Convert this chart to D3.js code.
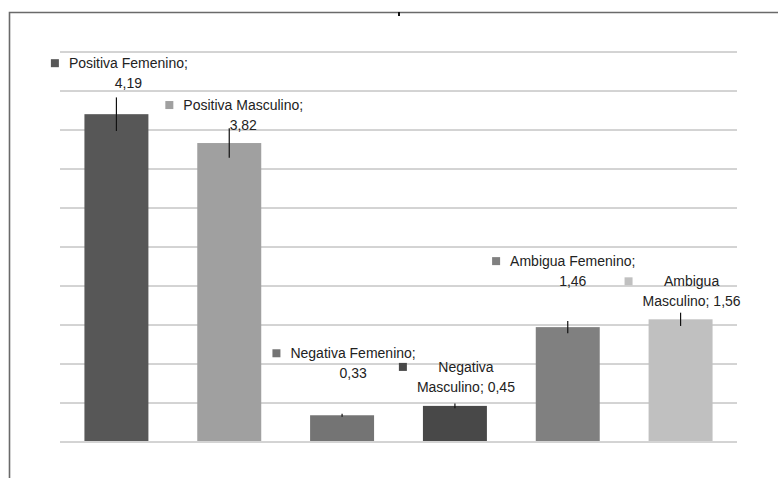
<!DOCTYPE html>
<html>
<head>
<meta charset="utf-8">
<script src="https://cdn.jsdelivr.net/npm/d3@7"></script>
<style>
  html, body { margin: 0; padding: 0; background: #fff; }
  svg { display: block; }
  .label text { font-family: "Liberation Sans", Arial, sans-serif; font-size: 14px; fill: #222; }
</style>
</head>
<body>
<div id="chart"></div>
<script>
// categories and values
const categories = ['Positiva Femenino', 'Positiva Masculino', 'Negativa Femenino',
  'Negativa Masculino', 'Ambigua Femenino', 'Ambigua Masculino'];
const values = [4.19, 3.82, 0.33, 0.45, 1.46, 1.56];
const errors = [0.215, 0.19, 0.02, 0.03, 0.08, 0.085];
const yTicks = [0, 0.5, 1, 1.5, 2, 2.5, 3, 3.5, 4, 4.5, 5];

// styling / layout, kept apart from the data
const barColors = ['#575757', '#a0a0a0', '#747474', '#484848', '#808080', '#c0c0c0'];
// label placement: text centre offset from bar centre, first baseline offset from bar top
const labelLayout = [
  { dx: 12, dy: -46, split: 'value' },
  { dx: 14, dy: -33, split: 'value' },
  { dx: 11, dy: -57, split: 'value' },
  { dx: 11, dy: -34, split: 'name' },
  { dx: 5, dy: -61, split: 'value' },
  { dx: 11, dy: -33, split: 'name' },
];

const W = 778;
const H = 478;
const margin = { top: 51, right: 41, bottom: 37, left: 60 };
const fmt = (v) => d3.format('.2f')(v).replace('.', ',');

const svg = d3.select('#chart').append('svg')
  .attr('width', W)
  .attr('height', H);

// outer frame (cropped: only top and left visible)
svg.append('path')
  .attr('d', `M9.5,${H} V12.5 H${W}`)
  .attr('fill', 'none')
  .attr('stroke', '#6a6a6a')
  .attr('stroke-width', 1.6);
svg.append('rect')
  .attr('x', 398).attr('y', 12).attr('width', 2).attr('height', 4)
  .attr('fill', '#111');

const x = d3.scaleBand()
  .domain(categories)
  .range([margin.left, W - margin.right])
  .paddingInner(0.433)
  .paddingOuter(0.2165);

const y = d3.scaleLinear()
  .domain([0, 5])
  .range([H - margin.bottom, margin.top]);

// gridlines
svg.append('g')
  .attr('class', 'grid')
  .attr('transform', `translate(${margin.left},0)`)
  .call(d3.axisLeft(y).tickValues(yTicks).tickSize(-(W - margin.left - margin.right)).tickFormat(''))
  .call((g) => g.select('.domain').remove())
  .call((g) => g.selectAll('line').attr('stroke', '#a8a8a8').attr('stroke-width', 1)
    .attr('transform', 'translate(0,0.5)'));

const rows = categories.map((c, i) => ({
  cat: c, value: values[i], err: errors[i], color: barColors[i], layout: labelLayout[i],
}));

// bars
svg.append('g').attr('class', 'bars')
  .selectAll('rect')
  .data(rows)
  .join('rect')
  .attr('x', (d) => x(d.cat))
  .attr('y', (d) => y(d.value))
  .attr('width', x.bandwidth())
  .attr('height', (d) => y(0) - y(d.value))
  .attr('fill', (d) => d.color);

// error bars
svg.append('g').attr('class', 'errors')
  .selectAll('line')
  .data(rows)
  .join('line')
  .attr('x1', (d) => x(d.cat) + x.bandwidth() / 2)
  .attr('x2', (d) => x(d.cat) + x.bandwidth() / 2)
  .attr('y1', (d) => y(d.value + d.err))
  .attr('y2', (d) => y(d.value - d.err))
  .attr('stroke', '#111')
  .attr('stroke-width', 1.2);

// data labels with legend key
const labels = svg.append('g').attr('class', 'label')
  .selectAll('g')
  .data(rows)
  .join('g');

labels.each(function (d) {
  const g = d3.select(this);
  const cx = x(d.cat) + x.bandwidth() / 2 + d.layout.dx;
  const by = y(d.value) + d.layout.dy;
  const words = d.cat.split(' ');
  const lines = d.layout.split === 'value'
    ? [`${d.cat};`, fmt(d.value)]
    : [words[0], `${words.slice(1).join(' ')}; ${fmt(d.value)}`];
  const texts = g.selectAll('text')
    .data(lines)
    .join('text')
    .attr('x', cx)
    .attr('y', (t, i) => by + i * 20)
    .attr('text-anchor', 'middle')
    .text((t) => t);
  let maxW = 0;
  texts.each(function () { maxW = Math.max(maxW, this.getComputedTextLength()); });
  g.append('rect')
    .attr('x', cx - maxW / 2 - 18)
    .attr('y', by - 9)
    .attr('width', 8)
    .attr('height', 8)
    .attr('fill', d.color);
});
</script>
</body>
</html>
